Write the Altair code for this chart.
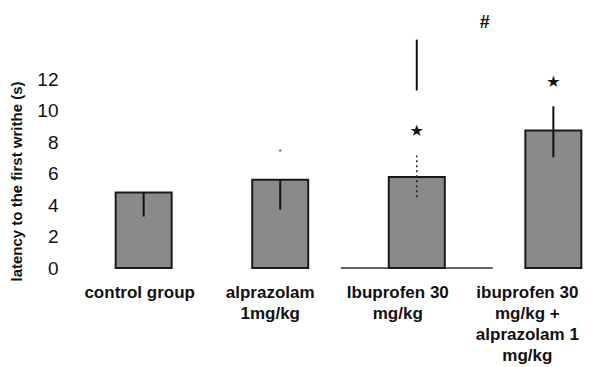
import altair as alt
import pandas as pd

categories = ["control group", "alprazolam|1mg/kg", "Ibuprofen 30|mg/kg",
              "ibuprofen 30|mg/kg +|alprazolam 1|mg/kg"]
means = [4.8, 5.6, 5.77, 8.73]
err_low = [3.27, 3.71, 4.5, 7.03]
err_high = [4.8, 5.6, 7.14, 10.27]
dashed = [False, False, True, False]

star_cats = [categories[2], categories[3]]
star_y = [8.69, 11.8]
hash_y = 15.54
line_y = [11.27, 14.5]
dot_y = 7.46

df = pd.DataFrame({"cat": categories, "mean": means, "lo": err_low, "hi": err_high,
                   "dashed": dashed})
stars = pd.DataFrame({"cat": star_cats, "y": star_y, "t": ["★", "★"]})
hashdf = pd.DataFrame({"cat": [categories[2]], "y": [hash_y], "t": ["#"]})
linedf = pd.DataFrame({"cat": [categories[2]], "y": [line_y[0]], "y2": [line_y[1]]})
dotdf = pd.DataFrame({"cat": [categories[1]], "y": [dot_y]})
basedf = pd.DataFrame({"cat": [categories[2]], "y": [0]})

label_offset = {
    "condition": [
        {"test": "datum.index < 0.1", "value": -4},
        {"test": "datum.index < 0.5", "value": -10},
        {"test": "datum.index < 0.8", "value": -19},
    ],
    "value": -26,
}

xenc = alt.X("cat:N", sort=categories, title=None,
             scale=alt.Scale(paddingInner=0.59, paddingOuter=0.1),
             axis=alt.Axis(labelExpr="split(datum.label, '|')", labelAngle=0,
                           labelAlign="center", labelOffset=label_offset,
                           labelFontSize=17, labelFont="Liberation Sans",
                           labelFontWeight="bold", labelColor="#111",
                           labelLineHeight=21, labelPadding=16, labelLimit=300,
                           domain=False, ticks=False, grid=False,
                           labelBaseline="top"))
yscale = alt.Scale(domain=[0, 16], nice=False)

bars = alt.Chart(df).mark_bar(fill="#8a8a8a", stroke="#1a1a1a", strokeWidth=2).encode(
    x=xenc,
    y=alt.Y("mean:Q", scale=yscale,
            title="latency to the first writhe (s)",
            axis=alt.Axis(values=[0, 2, 4, 6, 8, 10, 12], grid=False, domain=False,
                          ticks=False, labelFontSize=19, labelFont="Liberation Sans",
                          labelColor="#111", labelPadding=44,
                          titleFontSize=15, titleFont="Liberation Sans",
                          titleFontWeight="bold", titleColor="#111",
                          titleX=-86, titleY=165, titleAngle=-90,
                          titleAlign="center", titleBaseline="middle")),
)

err_solid = alt.Chart(df[~df["dashed"]]).mark_rule(color="#111", strokeWidth=2).encode(
    x=alt.X("cat:N", sort=categories), y=alt.Y("lo:Q", scale=yscale), y2="hi:Q")
err_dash = alt.Chart(df[df["dashed"]]).mark_rule(color="#222", strokeWidth=1.5,
                                                 strokeDash=[2, 3]).encode(
    x=alt.X("cat:N", sort=categories), y=alt.Y("lo:Q", scale=yscale), y2="hi:Q")

vline = alt.Chart(linedf).mark_rule(color="#111", strokeWidth=2).encode(
    x=alt.X("cat:N", sort=categories), y=alt.Y("y:Q", scale=yscale), y2="y2:Q")

dot = alt.Chart(dotdf).mark_point(filled=True, color="#444", size=6).encode(
    x=alt.X("cat:N", sort=categories), y=alt.Y("y:Q", scale=yscale))

star_txt = alt.Chart(stars).mark_text(fontSize=16, color="#111", font="DejaVu Sans",
                                      baseline="middle").encode(
    x=alt.X("cat:N", sort=categories), y=alt.Y("y:Q", scale=yscale), text="t:N")

hash_txt = alt.Chart(hashdf).mark_text(fontSize=18, fontWeight="bold", color="#111",
                                       font="Liberation Sans", baseline="middle",
                                       dx=68).encode(
    x=alt.X("cat:N", sort=categories), y=alt.Y("y:Q", scale=yscale), text="t:N")

base = alt.Chart(basedf).mark_tick(orient="horizontal", size=152, thickness=2,
                                   color="#222").encode(
    x=alt.X("cat:N", sort=categories), y=alt.Y("y:Q", scale=yscale))

chart = alt.layer(base, bars, err_solid, err_dash, vline, dot, star_txt, hash_txt).properties(
    width=493, height=252,
    background="white",
    autosize=alt.AutoSizeParams(type="none"),
    padding={"left": 94, "top": 8, "right": 8, "bottom": 100},
).configure_view(stroke=None)

chart.save("out.html", embed_options={"renderer": "svg", "actions": False})
